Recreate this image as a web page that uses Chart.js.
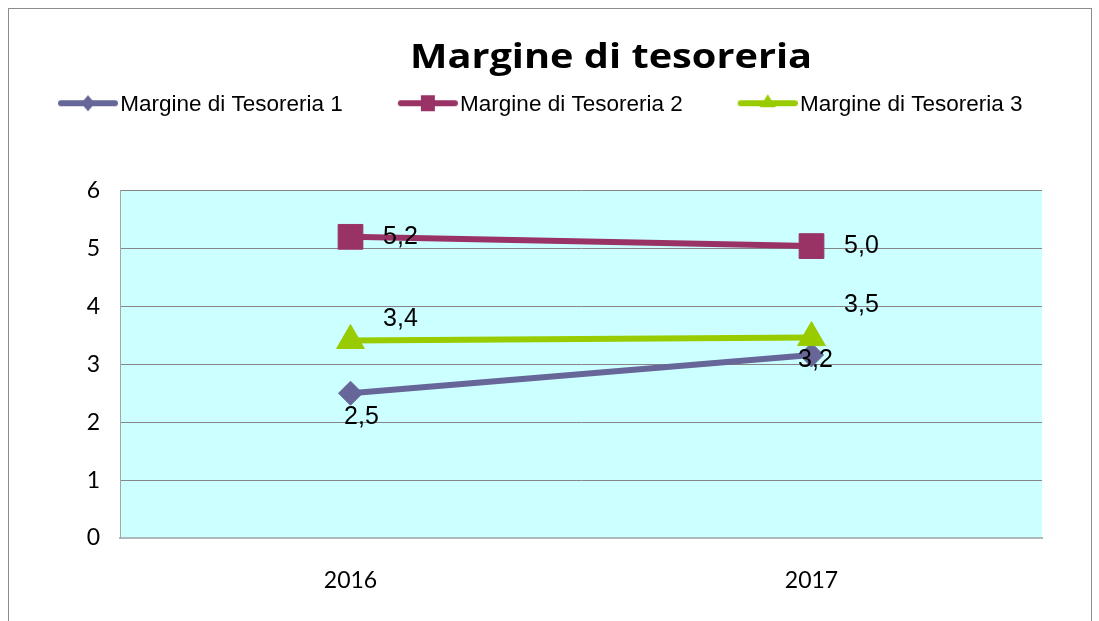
<!DOCTYPE html>
<html>
<head>
<meta charset="utf-8">
<script src="https://cdn.jsdelivr.net/npm/chart.js@4.4.1/dist/chart.umd.min.js"></script>
<style>
    html, body { margin: 0; padding: 0; background: #fff; overflow: hidden; }
    #frame { position: absolute; left: 8px; top: 8px; width: 1082px; height: 660px; border: 1px solid #8c8c8c; }
    #wrap { position: absolute; left: 0; top: 0; width: 1099px; height: 621px; }
</style>
</head>
<body>
<div id="frame"></div>
<div id="wrap"><canvas id="chart"></canvas></div>
<script>
// Chart data
const years = ['2016', '2017'];
const tesoreria1 = [2.5, 3.16];
const tesoreria2 = [5.2, 5.04];
const tesoreria3 = [3.41, 3.46];
const seriesNames = ['Margine di Tesoreria 1', 'Margine di Tesoreria 2', 'Margine di Tesoreria 3'];
const chartTitle = 'Margine di tesoreria';
const yMin = 0;
const yMax = 6;
const yStep = 1;

const colors = ['#666699', '#993366', '#99cc00'];

// Build a legend symbol: thick line with marker in the middle
function makeSymbol(color, style) {
    const c = document.createElement('canvas');
    c.width = 114;
    c.height = 26;
    const ctx = c.getContext('2d');
    const x0 = 54, x1 = 114, cx = 84, cy = 11;
    ctx.strokeStyle = color;
    ctx.fillStyle = color;
    ctx.lineWidth = 6;
    ctx.lineCap = 'round';
    ctx.beginPath();
    ctx.moveTo(x0 + 3, cy);
    ctx.lineTo(x1 - 3, cy);
    ctx.stroke();
    ctx.beginPath();
    if (style === 'diamond') {
        ctx.moveTo(cx, cy - 8);
        ctx.lineTo(cx + 7, cy);
        ctx.lineTo(cx, cy + 8);
        ctx.lineTo(cx - 7, cy);
    } else if (style === 'square') {
        ctx.rect(cx - 7, cy - 8, 14, 16);
    } else {
        ctx.moveTo(cx, cy - 9);
        ctx.lineTo(cx + 8, cy + 4);
        ctx.lineTo(cx - 8, cy + 4);
    }
    ctx.closePath();
    ctx.fill();
    return c;
}

const symbols = [
    makeSymbol(colors[0], 'diamond'),
    makeSymbol(colors[1], 'square'),
    makeSymbol(colors[2], 'triangle')
];

function formatValue(v) {
    return v.toFixed(1).replace('.', ',');
}

// Light cyan plot background
const plotBackground = {
    id: 'plotBackground',
    beforeDraw(chart) {
        const a = chart.chartArea;
        const ctx = chart.ctx;
        ctx.save();
        ctx.fillStyle = '#ccffff';
        ctx.fillRect(a.left, a.top, a.right - a.left, a.bottom - a.top);
        ctx.restore();
    }
};

// Title, drawn a bit wider like the original
const wideTitle = {
    id: 'wideTitle',
    afterDraw(chart) {
        const ctx = chart.ctx;
        ctx.save();
        ctx.font = 'bold 34px "Open Sans", Lato, sans-serif';
        ctx.fillStyle = '#000';
        ctx.textAlign = 'center';
        ctx.textBaseline = 'alphabetic';
        const w = ctx.measureText(chartTitle).width;
        ctx.translate(611, 68);
        ctx.scale(402 / w, 1);
        ctx.fillText(chartTitle, 0, 0);
        ctx.restore();
    }
};

// Value labels next to points
const valueLabels = {
    id: 'valueLabels',
    afterDatasetsDraw(chart) {
        const ctx = chart.ctx;
        ctx.save();
        ctx.font = '25px "Liberation Sans", Arial, sans-serif';
        ctx.fillStyle = '#000';
        ctx.textAlign = 'center';
        ctx.textBaseline = 'middle';
        chart.data.datasets.forEach((ds, i) => {
            const meta = chart.getDatasetMeta(i);
            meta.data.forEach((pt, j) => {
                const off = ds.labelOffsets[j];
                ctx.fillText(formatValue(ds.data[j]), pt.x + off.dx, pt.y + off.dy);
            });
        });
        ctx.restore();
    }
};

// Extra space under the legend
const legendSpace = {
    id: 'legendSpace',
    beforeInit(chart) {
        const fit = chart.legend.fit;
        chart.legend.fit = function() {
            fit.bind(chart.legend)();
            this.height += 64;
        };
    }
};

const ctx = document.getElementById('chart');
new Chart(ctx, {
    type: 'line',
    data: {
        labels: years,
        datasets: [
            {
                label: seriesNames[0],
                data: tesoreria1,
                borderColor: colors[0],
                backgroundColor: colors[0],
                borderWidth: 6,
                pointStyle: 'rectRot',
                pointRadius: 12,
                pointHoverRadius: 12,
                pointBorderWidth: 1,
                order: 3,
                labelOffsets: [{ dx: 11, dy: 24 }, { dx: 4, dy: 5 }]
            },
            {
                label: seriesNames[1],
                data: tesoreria2,
                borderColor: colors[1],
                backgroundColor: colors[1],
                borderWidth: 6,
                pointStyle: 'rect',
                pointRadius: 17.5,
                pointHoverRadius: 17.5,
                pointBorderWidth: 1,
                order: 2,
                labelOffsets: [{ dx: 50, dy: 0 }, { dx: 50, dy: 0 }]
            },
            {
                label: seriesNames[2],
                data: tesoreria3,
                borderColor: colors[2],
                backgroundColor: colors[2],
                borderWidth: 6,
                pointStyle: 'triangle',
                pointRadius: 16,
                pointHoverRadius: 16,
                pointBorderWidth: 1,
                order: 1,
                labelOffsets: [{ dx: 50, dy: -21 }, { dx: 50, dy: -32 }]
            }
        ]
    },
    options: {
        responsive: true,
        maintainAspectRatio: false,
        animation: false,
        layout: {
            padding: { top: 84, left: 3, right: 57, bottom: 10 }
        },
        plugins: {
            title: { display: false },
            legend: {
                display: true,
                position: 'top',
                align: 'start',
                labels: {
                    usePointStyle: true,
                    pointStyleWidth: 96,
                    padding: 10,
                    color: '#000',
                    font: { family: '"Liberation Sans", Arial, sans-serif', size: 22.5 },
                    generateLabels(chart) {
                        return chart.data.datasets.map((ds, i) => ({
                            text: ds.label,
                            pointStyle: symbols[i],
                            fillStyle: ds.borderColor,
                            strokeStyle: ds.borderColor,
                            lineWidth: 0,
                            hidden: false,
                            datasetIndex: i
                        }));
                    }
                }
            },
            tooltip: { enabled: false }
        },
        scales: {
            x: {
                offset: true,
                grid: { display: false },
                border: { display: true, color: '#b0b8b8', width: 2 },
                ticks: {
                    color: '#000',
                    padding: 21,
                    font: { family: 'Lato, "Open Sans", sans-serif', size: 23 }
                },
                afterFit(scale) { scale.height = 73; }
            },
            y: {
                min: yMin,
                max: yMax,
                grid: {
                    drawTicks: false,
                    color: (c) => c.tick && c.tick.value === 0 ? 'rgba(0,0,0,0)' : '#868686',
                    lineWidth: 1
                },
                border: { display: true, color: '#a6a6a6', width: 1 },
                ticks: {
                    stepSize: yStep,
                    color: '#000',
                    padding: 20,
                    font: { family: 'Lato, "Open Sans", sans-serif', size: 23 }
                },
                afterFit(scale) { scale.width = 117; }
            }
        }
    },
    plugins: [plotBackground, valueLabels, legendSpace, wideTitle]
});
</script>
</body>
</html>
